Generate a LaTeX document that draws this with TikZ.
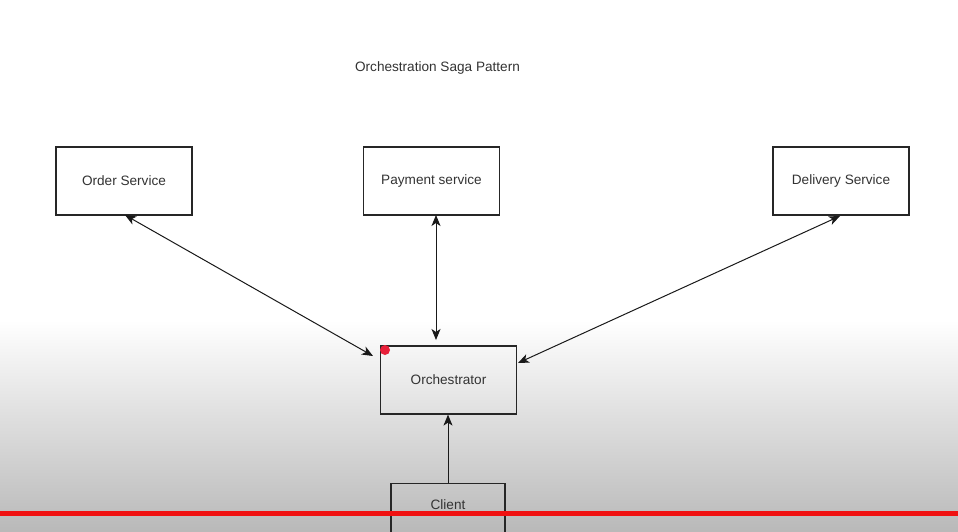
\documentclass[tikz,border=0pt]{standalone}
\usepackage{fontspec}
\setmainfont{Liberation Sans}
\usetikzlibrary{arrows.meta}
\definecolor{txt}{HTML}{333333}
\definecolor{bggray}{HTML}{B9B9B9}
\definecolor{redline}{HTML}{F01010}
\definecolor{reddot}{HTML}{E8203A}
\begin{document}
\begin{tikzpicture}[x=1pt,y=-1pt,
  svcbox/.style={draw=black!85,line width=1.2pt,line join=miter,minimum width=136pt,minimum height=68pt,inner sep=0pt,font=\fontsize{13.6}{16}\selectfont,text=txt},
  conn/.style={line width=1pt,black!90},
  tip/.tip={Stealth[length=11pt,width=9pt,inset=3pt]}]
\useasboundingbox (0,0) rectangle (958,531);
\fill[white] (0,0) rectangle (958,321);
\shade[top color=white,bottom color=bggray] (0,320) rectangle (958,531);
\node[font=\fontsize{13.6}{16}\selectfont,text=txt] (title) at (437.5,68) {Orchestration Saga Pattern};
\node[svcbox,fill=white] (order) at (124,181) {Order Service};
\node[svcbox,fill=white] (pay) at (431.5,181) {Payment service};
\node[svcbox,fill=white] (deliv) at (841,181) {Delivery Service};
\node[svcbox] (orch) at (448.5,380) {Orchestrator};
\node[svcbox,minimum width=114pt,minimum height=100pt,anchor=north] (client) at (448,483) {};
\node[font=\fontsize{13.6}{16}\selectfont,text=txt] (clientlbl) at (448,505) {Client};
\coordinate (oA) at (125,215);
\coordinate (oB) at (373,356);
\coordinate (pA) at (436,215);
\coordinate (pB) at (436,340);
\coordinate (dA) at (840,216);
\coordinate (dB) at (518,363);
\draw[conn,tip-tip] (oA) -- (oB);
\draw[conn,tip-tip] (pA) -- (pB);
\draw[conn,tip-tip] (dA) -- (dB);
\draw[conn,-tip] (client.north) -- (client.north |- orch.south);
\fill[reddot] (385,350) circle (5pt);
\fill[redline] (0,511) rectangle (958,515.5);
\end{tikzpicture}
\end{document}
